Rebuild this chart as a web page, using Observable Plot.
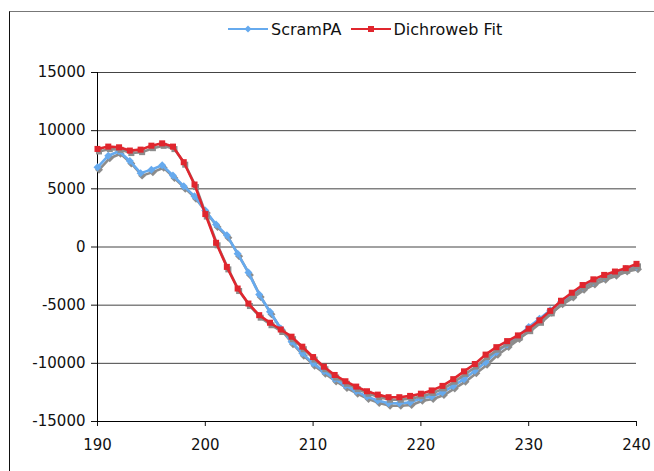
<!DOCTYPE html>
<html>
<head>
<meta charset="utf-8">
<script src="https://cdn.jsdelivr.net/npm/d3@7"></script>
<script src="https://cdn.jsdelivr.net/npm/@observablehq/plot@0.6"></script>
<style>
  html, body { margin: 0; padding: 0; background: #fff; }
  #wrap { position: relative; width: 654px; height: 471px; overflow: hidden; font-family: "DejaVu Sans", Verdana, sans-serif; }
  #frame { position: absolute; left: 9px; top: 11px; width: 700px; height: 500px; border-left: 1px solid #111; border-top: 1px solid #777; pointer-events: none; }
  #legend { position: absolute; left: 228px; top: 19px; display: flex; align-items: center; font-size: 16px; color: #111; white-space: nowrap; }
  #legend .item { display: flex; align-items: center; }
  #legend .item + .item { margin-left: 9px; }
  #legend svg { display: block; margin-right: 3px; }
  #chart { position: absolute; left: 0; top: 0; }
</style>
</head>
<body>
<div id="wrap">
  <div id="frame"></div>
  <div id="chart"></div>
  <div id="legend"></div>
</div>
<script>
// ---- data ----
const wavelength = [190,191,192,193,194,195,196,197,198,199,200,201,202,203,204,205,206,207,208,209,210,
  211,212,213,214,215,216,217,218,219,220,221,222,223,224,225,226,227,228,229,230,
  231,232,233,234,235,236,237,238,239,240];
const scramPA = [6850,7850,8230,7400,6350,6650,7030,6150,5230,4370,3140,1930,1000,-570,-2200,-4080,-5570,-7000,-8140,-9140,-10000,
  -10690,-11340,-11910,-12400,-12860,-13200,-13430,-13430,-13370,-13000,-12850,-12510,-11940,-11360,-10640,-9910,-9050,-8380,-7690,-6880,
  -6160,-5430,-4710,-4130,-3470,-3000,-2600,-2250,-1900,-1700];
const dichrowebFit = [8430,8630,8570,8290,8370,8710,8910,8630,7290,5370,2830,360,-1710,-3570,-4860,-5860,-6510,-7090,-7710,-8570,-9460,
  -10290,-11000,-11540,-12000,-12400,-12690,-12910,-12910,-12800,-12610,-12330,-11940,-11360,-10690,-10060,-9250,-8610,-8090,-7600,-7020,
  -6300,-5490,-4620,-3930,-3270,-2780,-2400,-2110,-1820,-1450];
const seriesNames = ["ScramPA", "Dichroweb Fit"];
const seriesColors = ["#66aaee", "#e0262e"];
const seriesSymbols = ["diamond2", "square"];
const xTicks = [190, 200, 210, 220, 230, 240];
const yTicks = [-15000, -10000, -5000, 0, 5000, 10000, 15000];
const gridLines = [-10000, -5000, 0, 5000, 10000, 15000];

// ---- build table ----
const blue = wavelength.map((w, i) => ({w, v: scramPA[i]}));
const red = wavelength.map((w, i) => ({w, v: dichrowebFit[i]}));

const shadow = "#8c8c8c";
function seriesMarks(data, color, symbol, r) {
  return [
    Plot.line(data, {x: "w", y: "v", stroke: shadow, strokeWidth: 2.6, dx: 1.5, dy: 2.5}),
    Plot.dot(data, {x: "w", y: "v", symbol, fill: shadow, stroke: "none", r, dx: 1.5, dy: 2.5}),
    Plot.line(data, {x: "w", y: "v", stroke: color, strokeWidth: 2.6}),
    Plot.dot(data, {x: "w", y: "v", symbol, fill: color, stroke: "none", r})
  ];
}

const chart = Plot.plot({
  width: 654,
  height: 471,
  marginLeft: 97,
  marginRight: 18,
  marginTop: 72,
  marginBottom: 50,
  style: {fontFamily: "'DejaVu Sans', Verdana, sans-serif", fontSize: "15px", color: "#111", background: "transparent", overflow: "visible"},
  x: {domain: [190, 240], ticks: xTicks, tickFormat: d => String(d), tickSize: 5, tickPadding: 13, label: null},
  y: {domain: [-15000, 15000], ticks: yTicks, tickFormat: d => String(d), tickSize: 6, tickPadding: 6, label: null},
  marks: [
    Plot.ruleY(gridLines, {stroke: "#444", strokeWidth: 1}),
    Plot.ruleX([190], {stroke: "#000", strokeWidth: 1}),
    Plot.ruleY([-15000], {stroke: "#000", strokeWidth: 1}),
    ...seriesMarks(blue, seriesColors[0], seriesSymbols[0], 3.6),
    ...seriesMarks(red, seriesColors[1], seriesSymbols[1], 3.4)
  ]
});
document.getElementById("chart").appendChild(chart);

// ---- legend ----
const legend = document.getElementById("legend");
seriesNames.forEach((name, i) => {
  const item = document.createElement("div");
  item.className = "item";
  const marker = i === 0
    ? `<path d="M20,6.5 L23.5,10 L20,13.5 L16.5,10 Z" fill="${seriesColors[i]}"/>`
    : `<rect x="17" y="7" width="6" height="6" fill="${seriesColors[i]}"/>`;
  item.innerHTML = `<svg width="40" height="20"><line x1="0" x2="40" y1="10" y2="10" stroke="${seriesColors[i]}" stroke-width="2.2"/>${marker}</svg><span>${name}</span>`;
  legend.appendChild(item);
});
</script>
</body>
</html>
